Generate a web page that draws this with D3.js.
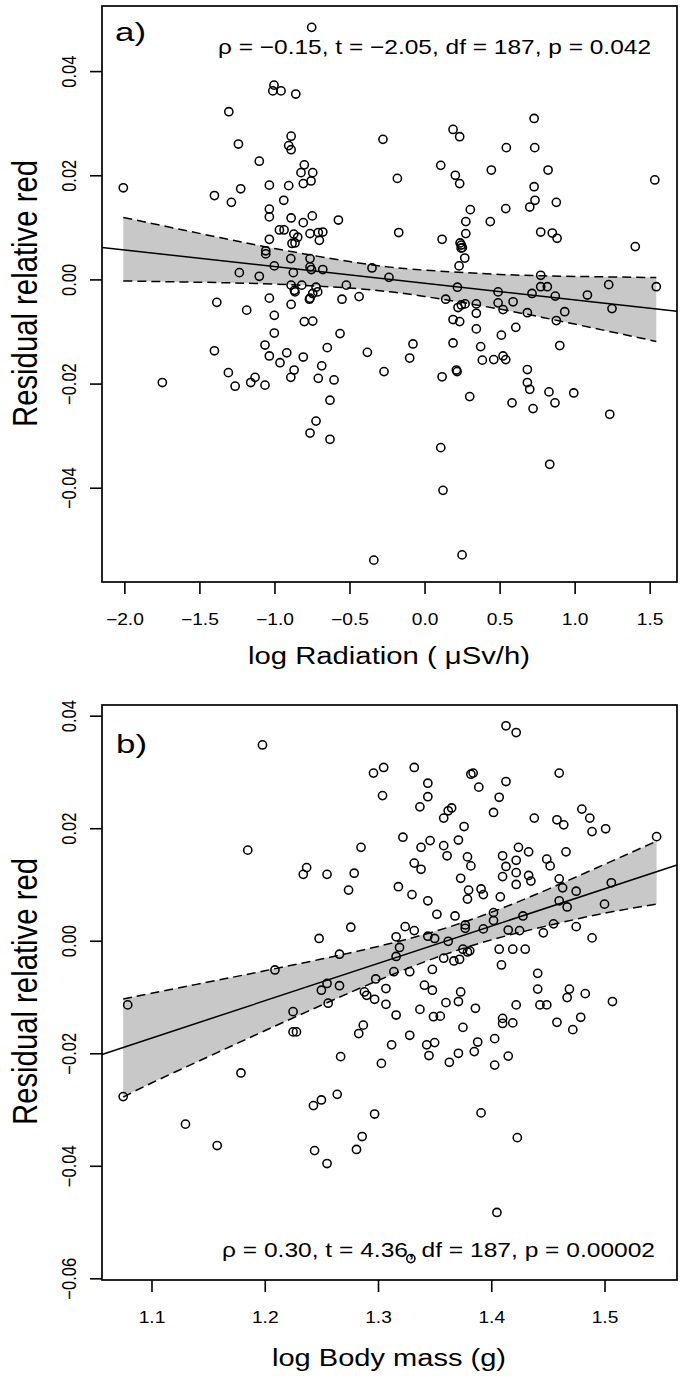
<!DOCTYPE html>
<html><head><meta charset="utf-8">
<script src="https://cdn.jsdelivr.net/npm/d3@7"></script>
<style>
body{margin:0;background:#fff}
svg{display:block}
text{font-family:"Liberation Sans",Arial,Helvetica,sans-serif;fill:#000}
</style>
</head><body>
<svg id="chart" width="686" height="1383"></svg>
<script>
// ---------- Panel a: log Radiation vs residual relative red ----------
const radX = [-0.752,-1.003,-1.011,-0.956,-0.858,-1.304,-1.240,-0.889,-0.905,-0.889,-1.101,-0.801,-0.823,-0.745,-0.808,-0.756,-2.007,-1.034,-0.905,-1.400,-1.287,-1.225,-0.938,-1.034,-1.034,-0.889,-0.748,-0.808,-0.967,-0.936,-0.871,-0.845,-0.883,-0.863,-0.763,-0.708,-0.678,-0.701,-1.034,-1.058,-1.058,-0.891,-0.763,-1.001,-0.763,-0.754,-0.678,-0.874,-1.234,-1.101,-0.889,-0.818,-0.867,-0.863,-0.723,-0.745,-0.763,-0.712,-0.574,-1.384,-1.185,-1.034,-0.889,-0.767,-1.001,-0.801,-0.745,-1.001,
0.730,0.190,0.234,-0.277,0.545,0.734,0.108,0.445,0.823,0.205,0.234,-0.181,1.534,0.730,0.736,0.701,0.878,0.541,0.305,0.275,0.438,-0.172,0.275,0.117,0.774,0.851,0.883,0.237,0.245,0.252,0.244,0.268,0.230,1.404,-0.350,-0.237,0.774,-0.521,-0.436,0.219,0.490,0.774,0.818,0.716,0.871,1.085,1.227,1.544,0.141,0.490,0.590,0.345,0.245,0.223,0.270,0.523,0.345,0.685,0.934,1.249,0.190,0.234,0.878,0.345,0.512,0.608,-0.550,-0.563,
-1.400,-1.063,-1.034,-0.918,-0.963,-0.808,-0.648,-1.307,-1.262,-1.158,-1.129,-1.063,-0.869,-0.891,-0.685,-0.708,-0.603,-1.747,-0.630,-0.723,-0.763,-0.630,
-0.381,-0.077,-0.099,-0.270,0.190,0.374,0.385,0.461,0.523,0.541,0.117,0.212,0.217,0.685,0.901,0.301,0.685,0.701,0.583,0.723,0.829,0.869,0.994,1.234,0.108,0.834,0.123,-0.338,0.250];
const radY = [0.0484,0.0373,0.0362,0.0362,0.0356,0.0322,0.0260,0.0275,0.0257,0.0249,0.0227,0.0220,0.0205,0.0205,0.0184,0.0189,0.0176,0.0181,0.0180,0.0161,0.0148,0.0174,0.0152,0.0135,0.0120,0.0118,0.0122,0.0109,0.0095,0.0095,0.0087,0.0081,0.0069,0.0070,0.0088,0.0090,0.0091,0.0075,0.0077,0.0055,0.0049,0.0040,0.0040,0.0026,0.0024,0.0019,0.0019,0.0013,0.0013,0.0006,-0.0011,-0.0011,-0.0021,-0.0024,-0.0015,-0.0027,-0.0036,-0.0024,0.0114,-0.0044,-0.0059,-0.0036,-0.0048,-0.0038,-0.0069,-0.0081,-0.0080,-0.0103,
0.0309,0.0288,0.0274,0.0269,0.0253,0.0253,0.0219,0.0210,0.0210,0.0200,0.0184,0.0194,0.0191,0.0178,0.0152,0.0139,0.0148,0.0136,0.0134,0.0111,0.0111,0.0090,0.0088,0.0077,0.0091,0.0089,0.0079,0.0070,0.0066,0.0061,0.0060,0.0041,0.0026,0.0063,0.0022,0.0004,0.0008,-0.0011,-0.0033,-0.0015,-0.0024,-0.0014,-0.0014,-0.0027,-0.0032,-0.0030,-0.0010,-0.0014,-0.0038,-0.0045,-0.0043,-0.0047,-0.0049,-0.0054,-0.0047,-0.0058,-0.0065,-0.0064,-0.0062,-0.0056,-0.0077,-0.0081,-0.0079,-0.0095,-0.0107,-0.0092,-0.0038,-0.0104,
-0.0137,-0.0126,-0.0147,-0.0141,-0.0160,-0.0149,-0.0131,-0.0179,-0.0205,-0.0198,-0.0188,-0.0203,-0.0174,-0.0188,-0.0166,-0.0190,-0.0193,-0.0198,-0.0232,-0.0272,-0.0295,-0.0307,
-0.0140,-0.0124,-0.0151,-0.0177,-0.0122,-0.0129,-0.0155,-0.0154,-0.0147,-0.0154,-0.0187,-0.0174,-0.0177,-0.0173,-0.0127,-0.0225,-0.0198,-0.0211,-0.0237,-0.0248,-0.0216,-0.0237,-0.0218,-0.0259,-0.0323,-0.0355,-0.0405,-0.0539,-0.0529];
const radTicksX = [-2.0,-1.5,-1.0,-0.5,0.0,0.5,1.0,1.5];
const radTicksY = [-0.04,-0.02,0.00,0.02,0.04];
const radFit = {intercept:-0.00074, slope:-0.0032};
const radBandX  = [-2.007,-1.5,-1.0,-0.5,-0.23,0.0,0.5,1.0,1.544];
const radBandHi = [0.0119,0.00884,0.00594,0.00344,0.00236,0.00179,0.00096,0.00058,0.00036];
const radBandLo = [-0.0003,-0.00054,-0.0009,-0.00166,-0.00238,-0.00327,-0.0057,-0.00858,-0.0119];
const radStats = "ρ = −0.15, t = −2.05, df = 187, p = 0.042";

// ---------- Panel b: log Body mass vs residual relative red ----------
const massX = [1.198,1.185,1.234,1.237,1.255,1.248,1.266,1.209,1.255,1.250,1.266,1.256,1.079,1.225,1.225,1.228,1.267,1.179,1.075,1.243,1.250,1.264,1.130,1.158,1.244,1.255,
1.413,1.422,1.296,1.305,1.332,1.382,1.384,1.460,1.344,1.413,1.389,1.304,1.344,1.407,1.337,1.365,1.362,1.358,1.402,1.480,1.487,1.438,1.458,1.464,1.489,1.501,1.376,1.322,1.546,1.346,1.371,1.338,1.358,1.285,1.424,1.361,1.410,1.433,1.466,1.379,1.422,1.449,1.452,1.382,1.332,1.338,1.413,1.422,1.410,1.433,1.435,1.279,1.373,1.422,1.460,1.318,1.274,1.463,1.380,1.379,1.391,1.393,1.330,1.344,1.408,1.475,1.506,1.460,1.467,1.352,1.368,1.402,1.402,1.428,1.500,1.377,1.377,1.393,1.324,1.332,1.276,1.455,1.475,1.415,1.425,1.446,1.316,1.344,1.350,1.362,1.319,1.489,1.375,1.379,1.381,1.407,1.419,1.430,1.316,1.358,1.367,1.372,1.409,1.348,1.314,1.328,1.441,1.298,1.341,1.348,1.307,1.441,1.469,1.467,1.483,1.507,1.288,1.290,1.297,1.373,1.371,1.360,1.307,1.422,1.443,1.449,1.386,1.337,1.316,1.349,1.355,1.410,1.410,1.419,1.458,1.479,1.287,1.375,1.472,
1.283,1.312,1.328,1.303,1.343,1.350,1.345,1.363,1.371,1.385,1.388,1.403,1.403,1.415,1.297,1.281,1.286,1.391,1.423,1.405,1.329];
const massY = [0.0348,0.0161,0.0118,0.0130,0.0118,0.0004,-0.0024,-0.0052,-0.0076,-0.0088,-0.0080,-0.0111,-0.0114,-0.0126,-0.0162,-0.0162,-0.0206,-0.0235,-0.0277,-0.0293,-0.0283,-0.0273,-0.0326,-0.0364,-0.0373,-0.0396,
0.0382,0.0370,0.0298,0.0308,0.0308,0.0296,0.0298,0.0298,0.0280,0.0283,0.0273,0.0258,0.0256,0.0255,0.0238,0.0236,0.0231,0.0218,0.0228,0.0234,0.0218,0.0218,0.0215,0.0206,0.0194,0.0199,0.0203,0.0184,0.0185,0.0178,0.0179,0.0166,0.0169,0.0166,0.0166,0.0151,0.0151,0.0158,0.0158,0.0149,0.0143,0.0145,0.0133,0.0133,0.0138,0.0127,0.0132,0.0121,0.0114,0.0116,0.0106,0.0120,0.0111,0.0100,0.0110,0.0096,0.0090,0.0094,0.0090,0.0074,0.0092,0.0082,0.0082,0.0071,0.0078,0.0088,0.0103,0.0071,0.0060,0.0047,0.0044,0.0050,0.0036,0.0044,0.0065,0.0028,0.0022,0.0021,0.0025,0.0018,0.0024,0.0030,0.0025,0.0019,0.0018,0.0014,0.0007,0.0008,0.0004,-0.0001,-0.0012,0.0005,-0.0015,-0.0020,-0.0018,-0.0015,-0.0015,-0.0015,-0.0028,-0.0031,-0.0036,-0.0033,-0.0043,-0.0051,-0.0055,-0.0055,-0.0058,-0.0068,-0.0079,-0.0088,-0.0085,-0.0086,-0.0086,-0.0101,-0.0094,-0.0108,-0.0091,-0.0097,-0.0104,-0.0091,-0.0108,-0.0110,-0.0113,-0.0114,-0.0114,-0.0114,-0.0120,-0.0122,-0.0132,-0.0135,-0.0134,-0.0138,-0.0147,-0.0146,-0.0145,-0.0136,-0.0150,-0.0154,-0.0158,
-0.0165,-0.0185,-0.0168,-0.0218,-0.0185,-0.0181,-0.0204,-0.0216,-0.0200,-0.0197,-0.0180,-0.0174,-0.0221,-0.0205,-0.0308,-0.0371,-0.0348,-0.0306,-0.0350,-0.0483,-0.0565];
const massTicksX = [1.1,1.2,1.3,1.4,1.5];
const massTicksY = [-0.06,-0.04,-0.02,0.00,0.02,0.04];
const massFit = {intercept:-0.09027, slope:0.06633};
const massBandX  = [1.075,1.10,1.15,1.20,1.25,1.30,1.35,1.40,1.45,1.50,1.546];
const massBandHi = [-0.01035,-0.00933,-0.00735,-0.00534,-0.00326,-0.00101,0.00165,0.00505,0.00914,0.01357,0.0177];
const massBandLo = [-0.0278,-0.02529,-0.02063,-0.0160,-0.01146,-0.00707,-0.00309,0.00015,0.00268,0.00489,0.0065];
const massStats = "ρ = 0.30, t = 4.36, df = 187, p = 0.00002";

const svg = d3.select("#chart");

function panel(o){
  const x = d3.scaleLinear().domain(o.xDom).range([o.left, o.right]);
  const y = d3.scaleLinear().domain(o.yDom).range([o.bottom, o.top]);
  const g = svg.append("g");

  // confidence band
  const band = o.bandX.map((v,i)=>({x:v, lo:o.bandLo[i], hi:o.bandHi[i]}));
  g.append("path").datum(band)
    .attr("d", d3.area().x(d=>x(d.x)).y0(d=>y(d.lo)).y1(d=>y(d.hi)).curve(d3.curveNatural))
    .attr("fill","#c8c8c8").attr("stroke","none");
  ["hi","lo"].forEach(k=>{
    g.append("path").datum(band)
      .attr("d", d3.line().x(d=>x(d.x)).y(d=>y(d[k])).curve(d3.curveNatural))
      .attr("fill","none").attr("stroke","#000").attr("stroke-width",1.5).attr("stroke-dasharray","9,5");
  });
  // regression line across plot region
  const xd = x.domain();
  g.append("line")
    .attr("x1",x(xd[0])).attr("y1",y(o.fit.intercept+o.fit.slope*xd[0]))
    .attr("x2",x(xd[1])).attr("y2",y(o.fit.intercept+o.fit.slope*xd[1]))
    .attr("stroke","#000").attr("stroke-width",1.5);

  // points
  g.append("g").selectAll("circle").data(o.xs.map((v,i)=>[v,o.ys[i]])).join("circle")
    .attr("cx",d=>x(d[0])).attr("cy",d=>y(d[1])).attr("r",4.1)
    .attr("fill","none").attr("stroke","#000").attr("stroke-width",1.55);

  // box
  g.append("rect").attr("x",o.left).attr("y",o.top)
    .attr("width",o.right-o.left).attr("height",o.bottom-o.top)
    .attr("fill","none").attr("stroke","#000").attr("stroke-width",1.7);

  // x axis
  const ax = g.append("g").attr("transform",`translate(0,${o.bottom})`)
    .call(d3.axisBottom(x).tickValues(o.xTicks).tickSize(12).tickFormat(d3.format(o.xFmt)));
  ax.select(".domain").remove();
  ax.selectAll(".tick line").attr("stroke-width",1.6);
  ax.selectAll(".tick text").attr("y",o.xLabOff).attr("dy",null)
    .attr("font-size",16).attr("transform","scale(1.2,1)");

  // y axis
  const ay = g.append("g").attr("transform",`translate(${o.left},0)`)
    .call(d3.axisLeft(y).tickValues(o.yTicks).tickSize(12).tickFormat(d3.format(".2f")));
  ay.select(".domain").remove();
  ay.selectAll(".tick line").attr("stroke-width",1.6);
  ay.selectAll(".tick text").attr("x",0).attr("y",0).attr("dy",null)
    .attr("text-anchor","middle").attr("font-size",16.5)
    .attr("transform","translate(-26,0) scale(1.2,1) rotate(-90)");

  // panel letter
  g.append("text").attr("x",o.letterX).attr("y",o.letterY).attr("font-size",25)
    .attr("textLength",31).attr("lengthAdjust","spacingAndGlyphs").text(o.letter);
  // stats
  g.append("text").attr("x",o.statsX).attr("y",o.statsY).attr("font-size",21)
    .attr("textLength",433).attr("lengthAdjust","spacingAndGlyphs").text(o.stats);
  // x title
  g.append("text").attr("x",o.xtX0).attr("y",o.xtY).attr("font-size",23.5)
    .attr("textLength",o.xtLen).attr("lengthAdjust","spacingAndGlyphs").text(o.xTitle);
  // y title
  g.append("text").attr("transform",`translate(37,${o.ytStart}) scale(1.2,1) rotate(-90)`)
    .attr("x",0).attr("y",0).attr("font-size",29.3)
    .attr("textLength",267).attr("lengthAdjust","spacingAndGlyphs").text("Residual relative red");
}

panel({xs:radX, ys:radY, xDom:[-2.149,1.682], yDom:[-0.0581,0.0525],
  left:102, right:677, top:6, bottom:582,
  bandX:radBandX, bandLo:radBandLo, bandHi:radBandHi, fit:radFit,
  xTicks:radTicksX, yTicks:radTicksY, xFmt:".1f", xLabOff:43,
  letter:"a)", letterX:115, letterY:41, stats:radStats, statsX:218, statsY:54,
  xTitle:"log Radiation ( μSv/h)", xtX0:248, xtLen:282, xtY:664, ytStart:427});

panel({xs:massX, ys:massY, xDom:[1.0563,1.5640], yDom:[-0.0603,0.0419],
  left:102, right:677, top:705, bottom:1280,
  bandX:massBandX, bandLo:massBandLo, bandHi:massBandHi, fit:massFit,
  xTicks:massTicksX, yTicks:massTicksY, xFmt:".1f", xLabOff:43,
  letter:"b)", letterX:116, letterY:753, stats:massStats, statsX:222, statsY:1257,
  xTitle:"log Body mass (g)", xtX0:272, xtLen:234, xtY:1366, ytStart:1125});
</script>
</body></html>
